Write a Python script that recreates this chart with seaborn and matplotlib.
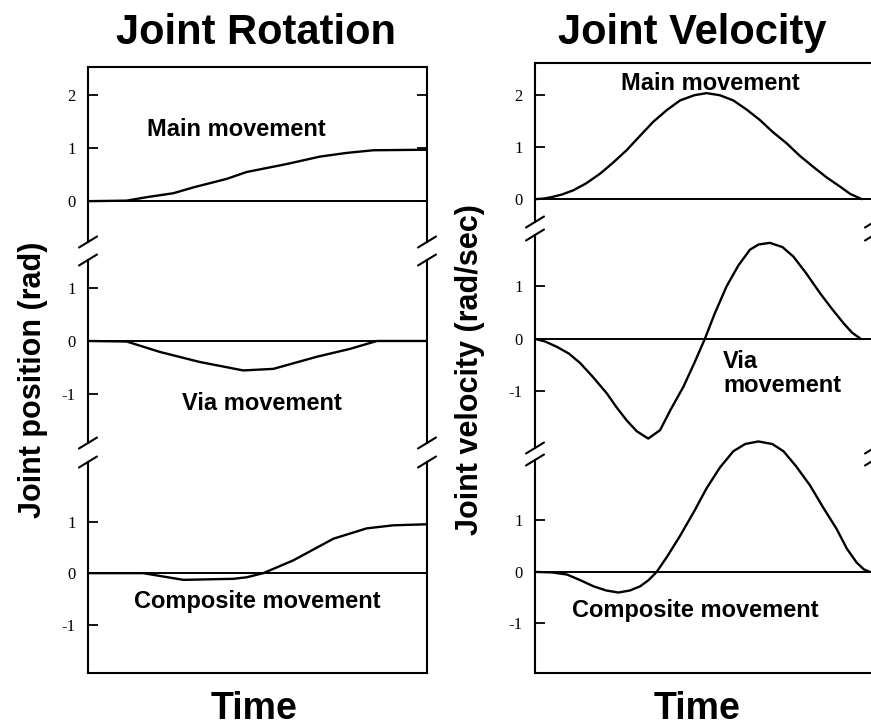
import matplotlib
matplotlib.use("Agg")
import matplotlib.pyplot as plt
import matplotlib.transforms as mtransforms
from matplotlib import font_manager
import pandas as pd
import seaborn as sns

# --- Data (time normalised to 0..1) ---
rot_main_t = [0.0, 0.114, 0.173, 0.252, 0.311, 0.409, 0.468, 0.586, 0.684, 0.763, 0.842, 1.0]
rot_main = [0.0, 0.01, 0.075, 0.15, 0.26, 0.42, 0.55, 0.70, 0.84, 0.91, 0.96, 0.97]

rot_via_t = [0.0, 0.114, 0.213, 0.330, 0.458, 0.547, 0.675, 0.773, 0.852, 1.0]
rot_via = [0.0, -0.01, -0.21, -0.40, -0.56, -0.53, -0.30, -0.15, 0.0, 0.0]

rot_comp_t = [0.0, 0.163, 0.281, 0.429, 0.468, 0.517, 0.606, 0.724, 0.822, 0.901, 1.0]
rot_comp = [0.0, 0.0, -0.13, -0.11, -0.08, 0.0, 0.25, 0.67, 0.87, 0.93, 0.95]

vel_main_t = [0.0, 0.025, 0.05, 0.08, 0.113, 0.15, 0.192, 0.23, 0.270, 0.31, 0.349, 0.39,
              0.428, 0.47, 0.506, 0.545, 0.585, 0.625, 0.664, 0.70, 0.743, 0.78, 0.821,
              0.86, 0.900, 0.93, 0.964]
vel_main = [0.0, 0.01, 0.04, 0.09, 0.17, 0.30, 0.49, 0.70, 0.94, 1.22, 1.49, 1.72,
            1.90, 2.00, 2.04, 2.00, 1.90, 1.72, 1.52, 1.30, 1.07, 0.84, 0.62,
            0.42, 0.24, 0.10, 0.0]

vel_via_t = [0.0, 0.03, 0.064, 0.10, 0.133, 0.17, 0.212, 0.24, 0.270, 0.30, 0.334, 0.369,
             0.40, 0.438, 0.47, 0.501, 0.53, 0.565, 0.60, 0.634, 0.66, 0.693, 0.73,
             0.762, 0.80, 0.841, 0.875, 0.910, 0.935, 0.959]
vel_via = [0.0, -0.05, -0.15, -0.28, -0.46, -0.72, -1.04, -1.30, -1.55, -1.76, -1.90, -1.74,
           -1.35, -0.91, -0.46, 0.0, 0.48, 1.0, 1.40, 1.70, 1.80, 1.83, 1.75,
           1.57, 1.25, 0.87, 0.58, 0.30, 0.12, 0.01]

vel_comp_t = [0.0, 0.05, 0.094, 0.13, 0.173, 0.21, 0.246, 0.28, 0.310, 0.335, 0.359, 0.39,
              0.428, 0.47, 0.506, 0.545, 0.585, 0.62, 0.659, 0.70, 0.733, 0.77, 0.811,
              0.85, 0.890, 0.92, 0.949, 0.97, 0.988]
vel_comp = [0.0, -0.01, -0.05, -0.15, -0.28, -0.36, -0.40, -0.36, -0.28, -0.16, 0.0, 0.30,
            0.70, 1.18, 1.62, 2.02, 2.34, 2.48, 2.53, 2.48, 2.34, 2.05, 1.68,
            1.25, 0.83, 0.45, 0.18, 0.05, 0.0]

column_titles = ["Joint Rotation", "Joint Velocity"]
y_labels = ["Joint position (rad)", "Joint velocity (rad/sec)"]
panel_labels = ["Main movement", "Via movement", "Composite movement"]

# --- Style ---
sns.set_theme(style="white", rc={"axes.edgecolor": "black", "axes.linewidth": 1.5,
                                 "text.color": "black", "ytick.color": "black",
                                 "xtick.color": "black", "axes.labelcolor": "black"})
plt.rcParams["font.family"] = ["Liberation Sans", "DejaVu Sans"]
plt.rcParams["axes.unicode_minus"] = False

names = {f.name for f in font_manager.fontManager.ttflist}
if "Liberation Sans Narrow" in names:
    TITLE_FONT, TITLE_SIZE = "Liberation Sans Narrow", 36
else:
    TITLE_FONT, TITLE_SIZE = "Liberation Sans", 30

W, H = 871, 726
fig = plt.figure(figsize=(W / 100, H / 100), dpi=100)


def add_panel(x0, x1, top, bottom):
    return fig.add_axes([x0 / W, 1 - bottom / H, (x1 - x0) / W, (bottom - top) / H])


def break_mark(ax, xa, ya):
    tr = fig.dpi_scale_trans + mtransforms.ScaledTranslation(xa, ya, ax.transAxes)
    ax.plot([-0.09, 0.09], [-0.055, 0.055], color="black", lw=1.5,
            transform=tr, clip_on=False)


# pixel layout: (x0, x1), then per panel (top, bottom, ylim)
columns = [
    ((88, 427), [(67, 242, (-0.77, 2.53)), (260, 443, (-1.94, 1.54)), (462, 673, (-1.94, 2.16))]),
    ((535, 874), [(63, 222, (-0.44, 2.62)), (235, 448, (-2.08, 1.98)), (460, 673, (-1.96, 2.17))]),
]
curves = [
    [(rot_main_t, rot_main), (rot_via_t, rot_via), (rot_comp_t, rot_comp)],
    [(vel_main_t, vel_main), (vel_via_t, vel_via), (vel_comp_t, vel_comp)],
]
yticks = [[0, 1, 2], [-1, 0, 1], [-1, 0, 1]]
# label positions (data coords) and alignment
label_pos = [
    [(0.437, 1.36, "center"), (0.513, -1.18, "center"), (0.50, -0.56, "center")],
    [(0.516, 2.23, "center"), (0.555, -0.22, "left"), (0.472, -0.74, "center")],
]

for c, ((x0, x1), panels) in enumerate(columns):
    axes = []
    for p, (top, bottom, ylim) in enumerate(panels):
        ax = add_panel(x0, x1, top, bottom)
        axes.append(ax)
        t, v = curves[c][p]
        df = pd.DataFrame({"t": t, "v": v})
        sns.lineplot(data=df, x="t", y="v", ax=ax, color="black", lw=1.7,
                     clip_on=(c, p) != (1, 2))
        ax.axhline(0, color="black", lw=1.4)
        ax.set_xlim(0, 1)
        ax.set_ylim(*ylim)
        ax.set_xticks([])
        ax.set_yticks(yticks[p])
        ax.tick_params(axis="y", direction="in", length=7, width=1.3, pad=9,
                       labelsize=12, labelfontfamily="Liberation Serif",
                       right=(c == 0 and p == 0), labelright=False, left=True)
        ax.set_xlabel("")
        ax.set_ylabel("")
        ax.spines["top"].set_visible(p == 0)
        ax.spines["bottom"].set_visible(p == 2)
        ax.set_facecolor("none")
        lx, ly, ha = label_pos[c][p]
        txt = panel_labels[p]
        if c == 1 and p == 1:
            txt = "Via\nmovement"
        ax.text(lx, ly, txt, ha=ha, va="top" if ha == "left" else "center",
                fontsize=17, fontweight="bold", linespacing=1.05)

    # break marks between stacked panels
    for upper, lower in zip(axes[:-1], axes[1:]):
        for xa in (0, 1):
            break_mark(upper, xa, 0)
            break_mark(lower, xa, 1)

    fig.text([256, 692][c] / W, 1 - 33 / H, column_titles[c], ha="center", va="center",
             fontsize=TITLE_SIZE, fontweight="bold", family=TITLE_FONT)
    fig.text([254, 697][c] / W, 1 - 709 / H, "Time", ha="center", va="center",
             fontsize=27, fontweight="bold")
    fig.text([33, 470][c] / W, 1 - [380, 370][c] / H, y_labels[c], ha="center",
             va="center", rotation=90, fontsize=22, fontweight="bold")

fig.savefig("out.png", dpi=100, facecolor="white")
